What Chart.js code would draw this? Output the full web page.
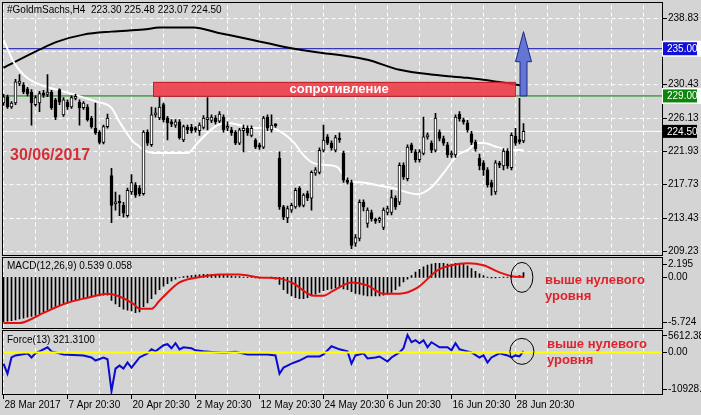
<!DOCTYPE html>
<html lang="ru">
<head>
<meta charset="UTF-8">
<title>#GoldmSachs,H4</title>
<script src="https://cdn.jsdelivr.net/npm/chart.js"></script>
<style>
  html, body { margin: 0; padding: 0; background: #d4d4d4; }
  body { width: 701px; height: 415px; position: relative; overflow: hidden; }
  canvas { position: absolute; left: 0; }
  #main { top: 0; }
  #macd { top: 256px; }
  #force { top: 330px; }
</style>
</head>
<body>
<canvas id="main" width="701" height="256"></canvas>
<canvas id="macd" width="701" height="74"></canvas>
<canvas id="force" width="701" height="85"></canvas>
<script>
// ---- candles (H4 bars, index 0 = 28 Mar 2017) ----
const barOpen = [
  228.1, 228.9, 227.6, 228.1, 230.6, 230.4, 229.9, 229.5, 227.9, 228.1,
  229.3, 229.2, 229.5, 228.5, 229.8, 226.6, 228.2, 227.6, 228.7, 228.2,
  227.5, 227.6, 226.2, 224.9, 224.4, 223.1, 225.1, 218.9, 215.3, 215.6,
  215.1, 213.8, 216.8, 217.7, 217.3, 216.6, 224.4, 222.8, 226.6, 226.2,
  227.9, 226.2, 225.7, 225.3, 225.7, 223.4, 225.0, 225.0, 224.8, 224.6,
  225.0, 226.0, 225.9, 226.2, 225.8, 226.3, 224.9, 224.7, 224.4, 223.0,
  224.6, 224.9, 224.0, 223.4, 222.8, 222.5, 226.3, 224.7, 225.3, 221.1,
  214.9, 213.5, 214.5, 214.9, 217.3, 215.1, 216.6, 216.0, 219.2, 219.3,
  222.1, 223.8, 223.0, 222.1, 223.6, 221.7, 218.3, 218.0, 210.3, 210.9,
  215.5, 212.8, 214.2, 213.2, 213.2, 212.3, 214.2, 214.2, 216.0, 215.5,
  220.2, 218.5, 222.8, 221.9, 220.9, 221.7, 223.8, 223.0, 222.1, 224.4,
  223.6, 222.8, 221.5, 221.5, 226.7, 225.9, 225.6, 224.2, 223.1, 221.1,
  220.5, 219.6, 218.0, 216.8, 220.4, 220.1, 222.0, 219.9, 223.9, 223.4,
  223.30
];
const barHigh = [
  229.2, 229.1, 228.3, 231.1, 231.7, 230.7, 230.1, 229.8, 229.0, 229.6,
  229.7, 231.7, 229.7, 228.7, 229.9, 228.8, 228.5, 229.0, 229.2, 228.5,
  228.3, 227.9, 226.4, 228.1, 224.6, 225.3, 226.7, 219.8, 216.8, 216.4,
  215.5, 217.3, 219.0, 218.0, 217.6, 224.6, 224.7, 227.6, 227.5, 228.9,
  228.1, 226.4, 226.0, 226.0, 226.0, 225.3, 225.3, 225.4, 225.1, 225.6,
  226.5, 228.8, 226.6, 226.5, 227.0, 226.6, 225.7, 225.0, 224.6, 224.9,
  225.3, 225.2, 225.2, 223.6, 223.0, 226.4, 226.6, 226.6, 225.5, 221.9,
  215.1, 215.0, 215.4, 217.3, 217.5, 216.6, 216.9, 219.5, 219.9, 222.4,
  225.3, 224.1, 223.3, 224.0, 224.3, 222.0, 218.6, 218.3, 211.4, 215.8,
  215.8, 214.8, 214.5, 213.5, 213.6, 214.8, 215.0, 217.0, 216.3, 220.5,
  220.5, 222.8, 223.0, 222.2, 222.2, 226.3, 224.3, 223.3, 226.8, 224.7,
  223.9, 223.1, 222.0, 226.6, 227.0, 226.2, 225.9, 224.5, 223.4, 221.6,
  220.8, 219.9, 218.3, 220.8, 220.7, 222.3, 222.3, 224.3, 224.9, 228.7,
  225.48
];
const barLow = [
  227.8, 227.4, 227.4, 227.9, 230.3, 229.3, 229.0, 225.3, 227.7, 227.0,
  228.8, 228.9, 227.3, 226.0, 227.9, 226.4, 227.3, 227.4, 228.5, 225.3,
  227.3, 225.8, 224.9, 224.1, 222.9, 222.9, 224.9, 212.9, 214.5, 213.8,
  213.6, 213.6, 216.5, 216.1, 216.3, 216.4, 222.7, 222.6, 226.3, 226.0,
  225.7, 223.4, 225.1, 225.0, 223.5, 223.2, 224.2, 224.3, 224.4, 224.0,
  224.8, 224.7, 225.6, 225.4, 225.6, 224.4, 224.6, 224.0, 222.8, 222.8,
  221.9, 224.0, 223.8, 222.3, 222.2, 222.3, 224.6, 224.4, 225.0, 214.6,
  213.3, 212.9, 214.2, 214.7, 214.9, 214.9, 215.7, 214.5, 218.9, 219.1,
  221.9, 222.8, 222.1, 221.9, 223.1, 218.0, 217.8, 209.6, 209.9, 210.6,
  214.4, 212.3, 213.1, 212.8, 212.9, 212.0, 213.9, 213.9, 214.6, 215.2,
  218.4, 218.2, 221.8, 220.6, 220.6, 221.5, 223.5, 221.8, 221.9, 223.3,
  222.7, 221.2, 221.2, 221.2, 225.8, 225.4, 224.4, 222.8, 222.0, 219.6,
  218.9, 217.4, 216.4, 216.5, 219.9, 219.6, 219.8, 219.6, 222.7, 222.9,
  223.07
];
const barClose = [
  228.9, 227.6, 228.1, 230.8, 230.9, 229.5, 229.3, 228.1, 228.8, 229.3,
  229.1, 229.5, 227.5, 226.3, 228.2, 228.5, 227.6, 228.8, 228.9, 227.5,
  228.1, 226.0, 225.1, 224.3, 223.1, 225.1, 226.2, 215.1, 215.4, 215.4,
  214.1, 217.0, 218.0, 216.4, 216.6, 224.4, 223.0, 226.6, 226.8, 227.6,
  226.0, 225.6, 225.4, 225.7, 223.7, 225.1, 224.7, 224.6, 224.7, 225.3,
  226.2, 226.1, 226.3, 225.7, 226.7, 224.7, 225.0, 224.3, 223.0, 224.7,
  224.9, 224.3, 224.9, 222.5, 222.5, 226.2, 224.9, 225.3, 225.2, 214.9,
  213.6, 214.7, 215.1, 217.0, 215.1, 216.4, 216.0, 219.3, 219.6, 222.1,
  223.4, 223.0, 222.4, 223.7, 223.4, 218.3, 218.0, 210.0, 211.0, 215.5,
  214.9, 214.5, 213.4, 213.1, 213.3, 214.5, 214.7, 216.1, 214.9, 220.2,
  218.7, 222.5, 222.1, 220.9, 221.9, 223.8, 224.0, 222.1, 226.2, 223.6,
  223.0, 221.5, 221.7, 226.3, 226.1, 225.7, 224.7, 223.1, 222.3, 220.1,
  219.6, 217.7, 217.4, 220.5, 220.2, 222.0, 220.1, 224.0, 223.0, 223.2,
  224.50
];

// moving averages (bar index -> price)
const maFastIdx = [0, 2.5, 5, 7.5, 15.5, 23.5, 27, 29, 32.5, 33.5, 35, 38.5, 46, 48.5, 51, 53.5, 56, 59, 62.5, 65.5,
  68.5, 72.5, 75, 77.5, 81, 83.5, 85, 87, 89, 93.5, 97.5, 103.5, 107, 110, 113.5, 116, 118.5, 120, 123.5, 127.5, 130];
const maFastVal = [236.15, 233.35, 231.69, 230.79, 229.5, 228.24, 227.48, 225.69, 223.14, 222.76, 222.12, 221.74, 221.74, 223.01, 224.29, 225.31, 225.56, 225.31, 224.93, 224.93,
  224.67, 223.14, 221.48, 220.46, 220.21, 219.95, 218.93, 218.04, 218.04, 217.66, 217.27, 216.51, 217.40, 219.19, 221.48, 222.12, 223.01, 223.01, 222.50, 222.12, 222.12];
const maSlowIdx = [0, 9, 13.5, 20, 27, 35, 39, 47.5, 53.5, 62, 70, 77.5, 87, 91, 99, 107.5, 116, 123.5, 130];
const maSlowVal = [232.58, 234.88, 235.90, 236.79, 237.17, 237.43, 237.68, 237.68, 237.04, 236.15, 235.26, 234.62, 233.98, 233.60, 232.32, 231.69, 231.30, 230.79, 230.28];

const levelTarget = 235.00;
const levelSupport = 229.00;
const lastPrice = 224.50;
const priceTicks = [209.23, 213.43, 217.73, 221.93, 226.13, 230.43, 234.63, 238.83];
const priceMin = 208.86, priceMax = 240.87;

// resistance zone and arrow
const zoneFrom = 37.4, zoneTo = 127.9, zoneTop = 230.8, zoneBottom = 229.0;
const arrowIdx = 130, arrowTip = 237.17, arrowNeck = 233.35, arrowBase = 229.0;

// ---- MACD(12,26,9) ----
const macdHist = [
  -5.0, -4.95, -4.9, -4.8, -4.7, -4.6, -4.5, -4.4, -4.3, -4.1,
  -3.9, -3.7, -3.5, -3.3, -3.1, -3.0, -2.9, -2.7, -2.6, -2.5,
  -2.4, -2.3, -2.2, -2.1, -2.1, -2.0, -2.0, -2.6, -3.0, -3.3,
  -3.6, -3.7, -3.8, -4.0, -3.9, -3.3, -2.9, -2.4, -1.9, -1.4,
  -1.0, -0.7, -0.4, -0.2, 0.0, 0.1, 0.15, 0.2, 0.25, 0.3,
  0.35, 0.35, 0.35, 0.3, 0.3, 0.25, 0.2, 0.15, 0.1, 0.1,
  0.05, 0.05, 0.02, -0.05, -0.1, 0.0, 0.0, 0.05, -0.2, -0.8,
  -1.4, -1.8, -2.1, -2.3, -2.4, -2.4, -2.3, -2.1, -1.9, -1.7,
  -1.5, -1.4, -1.3, -1.2, -1.2, -1.3, -1.4, -1.6, -1.8, -1.9,
  -2.0, -2.1, -2.1, -2.1, -2.1, -2.0, -1.9, -1.7, -1.4, -1.0,
  -0.5, -0.2, 0.2, 0.6, 0.9, 1.2, 1.4, 1.5, 1.6, 1.6,
  1.6, 1.5, 1.5, 1.6, 1.6, 1.5, 1.3, 1.0, 0.7, 0.4,
  0.2, 0.05, -0.05, -0.05, 0.0, 0.05, 0.05, 0.1, 0.1, 0.2,
  0.539
];
const macdSigIdx = [0, 4, 7, 10, 16, 21, 26, 28.5, 32.5, 34, 37, 39, 44, 48.5, 54, 59, 64, 69, 72.5, 77.5,
  80, 82.5, 87, 91, 95, 99, 103.5, 108.5, 112, 116, 120, 124, 127.5, 130];
const macdSigVal = [-5.17, -5.17, -4.71, -4.02, -2.87, -2.30, -1.84, -2.07, -2.99, -3.56, -3.56, -2.64, -0.57, 0, 0.34, 0.34, 0, -0.11, -0.69, -2.07,
  -2.07, -1.49, -0.57, -0.92, -1.84, -1.84, -1.15, 0.80, 1.38, 1.61, 1.38, 0.57, 0.11, 0.058];
const macdMax = 2.195, macdMin = -5.724;

// ---- Force(13) ----
const forceIdx = [0, 1, 2, 3, 6, 7, 8, 9, 11, 12, 13, 15, 20, 22, 23, 25, 26, 27, 28, 29,
  30, 31, 32, 33, 34, 36, 37, 38, 40, 41, 42, 43, 44, 45, 47, 48, 50, 52, 55, 58,
  61, 64, 66, 68, 69, 70, 71, 72, 74, 76, 79, 80, 82, 84, 86, 87, 88, 90, 91, 93,
  94, 96, 97, 99, 100, 101, 102, 103, 104, 105, 106, 107, 109, 111, 112, 113, 114, 115, 117, 119,
  120, 121, 122, 123, 124, 126, 127, 128, 129, 130];
const forceVal = [-2940, -5600, -1340, -800, -270, -1340, -270, 270, 1340, 270, 0, -530, -800, -1340, -2140, -1340, -1800, -10150, -4270, -3470,
  -4270, -2670, -4000, -2670, -1340, -270, 800, 270, 1870, 2140, 1070, 2400, 800, 1340, 1070, 530, 270, 100, -100, 150,
  -530, -530, -530, -800, -5600, -4000, -3470, -2940, -2140, -1070, -1070, -530, 1600, 800, 270, -2940, -800, -270, -1600, -1340,
  -1070, -2400, -1340, 0, 1070, 4540, 2670, 3200, 2400, 3200, 1340, 2670, 1340, 1340, 530, 2400, 800, 530, 0, -1340,
  -800, -2670, -1340, -800, -270, -800, -1340, -800, -1070, 321.31];
const forceMax = 5612.382, forceMin = -10928.21;

const dateLabels = ['28 Mar 2017', '7 Apr 20:30', '20 Apr 20:30', '2 May 20:30', '12 May 20:30',
  '24 May 20:30', '6 Jun 20:30', '16 Jun 20:30', '28 Jun 20:30'];

// ---- common setup ----
const FONT = '"Liberation Sans", Arial, sans-serif';
const GRID = '#ffffff';
const RED_TEXT = '#e0222c';
const X_MIN = -0.25, X_MAX = 164.625, AXIS_W = 39;
const gridIdx = [];
for (let v = 0; v <= 160; v += 8) gridIdx.push(v);
const macdInset = (macdMax - macdMin) * 6 / 70;
const forceInset = (forceMax - forceMin) * 5 / 63;
const macdTicks = [macdMax - macdInset, 0, macdMin + macdInset];
const forceTicks = [forceMax - forceInset, 0, forceMin + forceInset];

Chart.defaults.font.family = FONT;
Chart.defaults.font.size = 10;
Chart.defaults.color = '#000';
Chart.defaults.animation = false;
Chart.defaults.events = [];
Chart.defaults.plugins.legend.display = false;
Chart.defaults.plugins.tooltip.enabled = false;

const pts = (xs, ys) => xs.map((x, i) => ({ x, y: ys[i] }));
const flat = v => [{ x: X_MIN, y: v }, { x: X_MAX, y: v }];
const isDateTick = k => k % 2 === 0 && k / 2 < dateLabels.length;

// dashed grid drawn as line datasets (gaps split the segments)
function gridSet(lo, hi, rows) {
  const d = [];
  gridIdx.forEach(g => { d.push({ x: g, y: lo }, { x: g, y: hi }, { x: g, y: null }); });
  (rows || []).forEach(v => { d.push({ x: X_MIN, y: v }, { x: X_MAX, y: v }, { x: X_MAX, y: null }); });
  return {
    type: 'line', label: 'grid', order: 99, data: d, fill: false, spanGaps: false,
    borderColor: GRID, borderWidth: 1, borderDash: [4, 3], pointRadius: 0
  };
}

function barAxis(showLabels) {
  return {
    type: 'linear', min: X_MIN, max: X_MAX, offset: false,
    afterBuildTicks: s => { s.ticks = gridIdx.map(v => ({ value: v })); },
    afterFit: s => { s.height = showLabels ? 21 : 0; s.paddingLeft = 0; s.paddingRight = 0; },
    grid: { display: false, drawTicks: showLabels, tickLength: 4 },
    border: { display: false },
    ticks: {
      display: showLabels, autoSkip: false, maxRotation: 0, align: 'start', padding: 1, labelOffset: 1,
      callback: (v, k) => isDateTick(k) ? dateLabels[k / 2] : ''
    }
  };
}

function sideAxis(min, max, tickVals, labels) {
  return {
    position: 'right', min, max,
    afterFit: s => { s.width = AXIS_W; s.paddingTop = 0; s.paddingBottom = 0; },
    afterBuildTicks: s => { s.ticks = tickVals.map(v => ({ value: v })); },
    grid: { display: false, drawTicks: true, tickLength: 4 },
    border: { display: false },
    ticks: { padding: 2, autoSkip: false, callback: (v, k) => labels[k] }
  };
}

// black frame and small tick marks
function makePanel(yTickVals, dateMarks) {
  return {
    id: 'panelFrame',
    afterDraw(chart) {
      const ctx = chart.ctx, a = chart.chartArea, x = chart.scales.x, y = chart.scales.y;
      const l = Math.round(a.left), t = Math.round(a.top), r = Math.round(a.right), b = Math.round(a.bottom);
      ctx.save();
      ctx.setLineDash([]);
      ctx.strokeStyle = '#000';
      ctx.lineWidth = 1;
      yTickVals.forEach(v => {
        const p = Math.floor(y.getPixelForValue(v)) + 0.5;
        ctx.beginPath();
        ctx.moveTo(r + 1, p);
        ctx.lineTo(r + 5, p);
        ctx.stroke();
      });
      if (dateMarks) {
        gridIdx.forEach((v, k) => {
          if (!isDateTick(k)) return;
          const p = Math.floor(x.getPixelForValue(v)) + 0.5;
          ctx.beginPath();
          ctx.moveTo(p, b + 1);
          ctx.lineTo(p, b + 5);
          ctx.stroke();
        });
      }
      ctx.strokeRect(l - 0.5, t - 0.5, r - l + 1, b - t + 1);
      ctx.restore();
    }
  };
}

function priceBox(ctx, yPix, text, color, halo) {
  if (halo) {
    ctx.fillStyle = '#ffffff';
    ctx.fillRect(662, yPix - 8, 39, 16);
  }
  ctx.fillStyle = color;
  ctx.fillRect(663, yPix - 6.5, 34, 13);
  ctx.fillStyle = '#ffffff';
  ctx.textAlign = 'left';
  ctx.textBaseline = 'middle';
  ctx.fillText(text, 667, yPix + 0.5);
}

// ---- main price chart ----
const mainDecor = {
  id: 'mainDecor',
  afterDatasetsDraw(chart) {
    const { ctx, scales: { x, y } } = chart;
    ctx.save();
    const rx0 = x.getPixelForValue(zoneFrom), rx1 = x.getPixelForValue(zoneTo);
    const ry0 = y.getPixelForValue(zoneTop), ry1 = y.getPixelForValue(zoneBottom);
    ctx.fillStyle = 'rgba(238,52,64,0.85)';
    ctx.fillRect(rx0, ry0, rx1 - rx0, ry1 - ry0);
    ctx.strokeStyle = 'rgba(190,30,40,0.9)';
    ctx.lineWidth = 1;
    ctx.strokeRect(Math.round(rx0) + 0.5, Math.round(ry0) + 0.5, Math.round(rx1 - rx0), Math.round(ry1 - ry0));
    ctx.fillStyle = '#ffffff';
    ctx.font = 'bold 13px ' + FONT;
    ctx.textAlign = 'center';
    ctx.textBaseline = 'middle';
    ctx.fillText('сопротивление', (rx0 + rx1) / 2 + 5, (ry0 + ry1) / 2 + 0.5);

    const ax = x.getPixelForValue(arrowIdx);
    const yTip = y.getPixelForValue(arrowTip), yNeck = y.getPixelForValue(arrowNeck), yBase = y.getPixelForValue(arrowBase);
    ctx.beginPath();
    ctx.moveTo(ax - 3.5, yBase);
    ctx.lineTo(ax - 3.5, yNeck);
    ctx.lineTo(ax - 8, yNeck);
    ctx.lineTo(ax, yTip);
    ctx.lineTo(ax + 8, yNeck);
    ctx.lineTo(ax + 3.5, yNeck);
    ctx.lineTo(ax + 3.5, yBase);
    ctx.closePath();
    ctx.fillStyle = '#6575d6';
    ctx.fill();
    ctx.strokeStyle = '#1c2a80';
    ctx.stroke();
    ctx.restore();
  },
  afterDraw(chart) {
    const { ctx, scales: { y } } = chart;
    ctx.save();
    ctx.font = '10px ' + FONT;
    ctx.fillStyle = '#000';
    ctx.textAlign = 'left';
    ctx.textBaseline = 'middle';
    ctx.fillText('#GoldmSachs,H4  223.30 225.48 223.07 224.50', 7, 10.5);
    ctx.font = 'bold 16px ' + FONT;
    ctx.fillStyle = '#d42f38';
    ctx.fillText('30/06/2017', 10, 156);
    ctx.font = '10px ' + FONT;
    priceBox(ctx, y.getPixelForValue(levelTarget), levelTarget.toFixed(2), '#1010d8', true);
    priceBox(ctx, y.getPixelForValue(levelSupport), levelSupport.toFixed(2), '#0a860a', true);
    priceBox(ctx, y.getPixelForValue(lastPrice), lastPrice.toFixed(2), '#000000', false);
    ctx.restore();
  }
};

const barIdx = barOpen.map((_, i) => i);
new Chart(document.getElementById('main'), {
  type: 'bar',
  data: {
    datasets: [
      {
        label: 'body', order: 0, grouped: false, barThickness: 3, minBarLength: 2,
        data: barIdx.map(i => ({ x: i, y: [barOpen[i], barClose[i]] })),
        backgroundColor: c => barClose[c.dataIndex] >= barOpen[c.dataIndex] ? '#ffffff' : '#000000',
        borderColor: '#000', borderWidth: 1, borderSkipped: false
      },
      {
        label: 'wick', order: 1, grouped: false, barThickness: 1,
        data: barIdx.map(i => ({ x: i, y: [barLow[i], barHigh[i]] })),
        backgroundColor: '#000', borderWidth: 0
      },
      {
        type: 'line', label: 'MA fast', order: 2, data: pts(maFastIdx, maFastVal), fill: false,
        borderColor: '#ffffff', borderWidth: 2, pointRadius: 0, cubicInterpolationMode: 'monotone'
      },
      {
        type: 'line', label: 'MA slow', order: 3, data: pts(maSlowIdx, maSlowVal), fill: false,
        borderColor: '#000000', borderWidth: 2, pointRadius: 0, cubicInterpolationMode: 'monotone'
      },
      { type: 'line', label: '235', order: 4, data: flat(levelTarget), fill: false, borderColor: '#1010b8', borderWidth: 1, pointRadius: 0 },
      { type: 'line', label: '229', order: 5, data: flat(levelSupport), fill: false, borderColor: '#008000', borderWidth: 1, pointRadius: 0 },
      { type: 'line', label: 'bid', order: 6, data: flat(lastPrice), fill: false, borderColor: '#ffffff', borderWidth: 1, pointRadius: 0 },
      gridSet(priceMin, priceMax, priceTicks)
    ]
  },
  options: {
    responsive: false, devicePixelRatio: 1,
    layout: { padding: { left: 2.5, top: 2.5, right: 0, bottom: 1.5 } },
    scales: {
      x: barAxis(false),
      y: sideAxis(priceMin, priceMax, priceTicks, priceTicks.map(v => v.toFixed(2)))
    }
  },
  plugins: [makePanel(priceTicks, false), mainDecor]
});

// ---- MACD panel ----
function notes(ctx, x0, y1, y2) {
  ctx.font = 'bold 13px ' + FONT;
  ctx.fillStyle = RED_TEXT;
  ctx.textAlign = 'left';
  ctx.textBaseline = 'alphabetic';
  ctx.fillText('выше нулевого', x0, y1);
  ctx.fillText('уровня', x0, y2);
}

const macdDecor = {
  id: 'macdDecor',
  afterDraw(chart) {
    const { ctx, scales: { x, y } } = chart;
    ctx.save();
    ctx.font = '10px ' + FONT;
    ctx.fillStyle = '#000';
    ctx.textBaseline = 'middle';
    ctx.fillText('MACD(12,26,9) 0.539 0.058', 7, 10);
    const cx = x.getPixelForValue(129.6), cy = y.getPixelForValue(0);
    ctx.beginPath();
    ctx.ellipse(cx, cy, 11, 15, 0, 0, Math.PI * 2);
    ctx.strokeStyle = '#000';
    ctx.lineWidth = 1;
    ctx.stroke();
    notes(ctx, cx + 23, 28, 43.5);
    ctx.restore();
  }
};

new Chart(document.getElementById('macd'), {
  type: 'bar',
  data: {
    datasets: [
      {
        type: 'line', label: 'signal', order: 0, data: pts(macdSigIdx, macdSigVal), fill: false,
        borderColor: '#e60f0f', borderWidth: 2, pointRadius: 0, cubicInterpolationMode: 'monotone'
      },
      {
        label: 'macd', order: 1, grouped: false, barThickness: 1,
        data: macdHist.map((v, i) => ({ x: i, y: v })),
        backgroundColor: '#000', borderWidth: 0
      },
      gridSet(macdMin, macdMax)
    ]
  },
  options: {
    responsive: false, devicePixelRatio: 1,
    layout: { padding: { left: 2.5, top: 2, right: 0, bottom: 2 } },
    scales: {
      x: barAxis(false),
      y: sideAxis(macdMin, macdMax, macdTicks, [macdMax.toFixed(3), '0.00', macdMin.toFixed(3)])
    }
  },
  plugins: [makePanel(macdTicks, false), macdDecor]
});

// ---- Force panel ----
const forceDecor = {
  id: 'forceDecor',
  afterDraw(chart) {
    const { ctx, scales: { x, y } } = chart;
    ctx.save();
    ctx.font = '10px ' + FONT;
    ctx.fillStyle = '#000';
    ctx.textBaseline = 'middle';
    ctx.fillText('Force(13) 321.3100', 7, 10);
    const cx = x.getPixelForValue(129.6), cy = y.getPixelForValue(0) - 1;
    ctx.beginPath();
    ctx.ellipse(cx, cy, 12, 13, 0, 0, Math.PI * 2);
    ctx.strokeStyle = '#000';
    ctx.lineWidth = 1;
    ctx.stroke();
    notes(ctx, cx + 25, 18, 33.5);
    ctx.restore();
  }
};

new Chart(document.getElementById('force'), {
  type: 'line',
  data: {
    datasets: [
      { label: 'zero', order: 0, data: flat(0), fill: false, borderColor: '#ffff00', borderWidth: 2, pointRadius: 0 },
      { label: 'force', order: 1, data: pts(forceIdx, forceVal), fill: false, borderColor: '#0a0ad0', borderWidth: 2, pointRadius: 0 },
      gridSet(forceMin, forceMax)
    ]
  },
  options: {
    responsive: false, devicePixelRatio: 1,
    layout: { padding: { left: 2.5, top: 1, right: 0, bottom: 0 } },
    scales: {
      x: barAxis(true),
      y: sideAxis(forceMin, forceMax, forceTicks, ['5612.382', '0.00', '-10928.21'])
    }
  },
  plugins: [makePanel(forceTicks, true), forceDecor]
});
</script>
</body>
</html>
